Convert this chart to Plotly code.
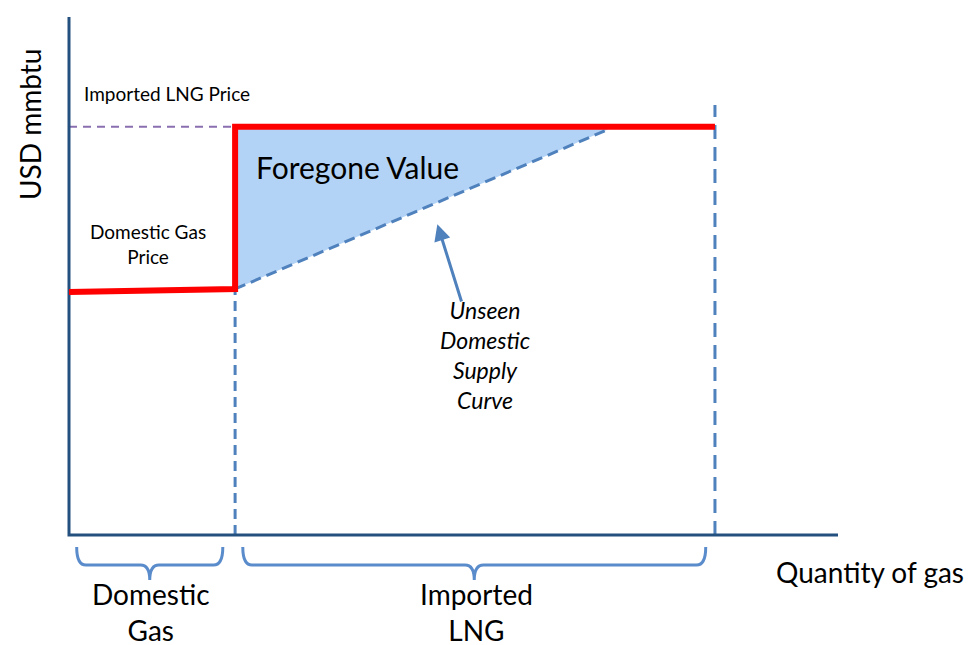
import plotly.graph_objects as go

# conceptual units: both axes run 0..100
axis_max_x = 100.0
axis_max_y = 100.0

q_domestic = 21.6          # end of domestic gas supply
q_total = 84.0             # end of imported LNG
price_lng = 78.8
price_domestic = [46.9, 47.5]   # slight upward tilt from 0 to q_domestic

supply_x = [21.6, 70.9]    # unseen domestic supply curve
supply_y = [47.5, 78.8]
supply_dash_end = 69.8     # dashes stop a little before the LNG price line

arrow_head = (47.9, 60.0)
arrow_tail = (51.1, 44.8)

AXIS = "#24507f"
BLUE = "#4f81bd"
RED = "#ff0000"
FILL = "#b3d3f6"
PURPLE = "#8a6fb0"
FONT = "Lato"

# page pixel -> data units (origin at px 69,535; 7.69 px per x unit, 5.18 px per y unit)
SX, SY, OX, OY = 7.69, 5.18, 69, 535


def px_x(p):
    return (p - OX) / SX


def px_y(p):
    return (OY - p) / SY


fig = go.Figure()

# foregone value triangle
fig.add_trace(go.Scatter(
    x=[q_domestic, q_domestic, supply_x[1], q_domestic],
    y=[supply_y[0], price_lng, price_lng, supply_y[0]],
    fill="toself", fillcolor=FILL, mode="lines", line=dict(width=0),
    hoverinfo="skip", showlegend=False,
))

# dashed supply curve
slope = (supply_y[1] - supply_y[0]) / (supply_x[1] - supply_x[0])
fig.add_trace(go.Scatter(
    x=[supply_x[0], supply_dash_end],
    y=[supply_y[0], supply_y[0] + slope * (supply_dash_end - supply_x[0])],
    mode="lines", line=dict(color=BLUE, width=3, dash="11px,6px"),
    showlegend=False,
))

# vertical dashed guides
fig.add_trace(go.Scatter(
    x=[q_domestic, q_domestic], y=[0, price_domestic[1]],
    mode="lines", line=dict(color=BLUE, width=3, dash="10px,6px"), showlegend=False,
))
fig.add_trace(go.Scatter(
    x=[q_total, q_total], y=[0, price_lng + 4.2],
    mode="lines", line=dict(color=BLUE, width=3, dash="14px,8px"), showlegend=False,
))

# imported LNG price reference
fig.add_trace(go.Scatter(
    x=[0, q_domestic], y=[price_lng, price_lng],
    mode="lines", line=dict(color=PURPLE, width=2, dash="8px,6px"), showlegend=False,
))

# axes
fig.add_trace(go.Scatter(
    x=[0, 0, axis_max_x], y=[axis_max_y, 0, 0],
    mode="lines", line=dict(color=AXIS, width=3), showlegend=False,
))

# price path (red)
fig.add_trace(go.Scatter(
    x=[0, q_domestic, q_domestic, q_total],
    y=[price_domestic[0], price_domestic[1], price_lng, price_lng],
    mode="lines", line=dict(color=RED, width=6), showlegend=False,
))


def brace(x0, x1, y_top=-2.3, y_mid=-5.8, y_tip=-8.7, r=1.2):
    xm = (x0 + x1) / 2
    return (f"M {x0},{y_top} Q {x0},{y_mid} {x0 + r},{y_mid} "
            f"L {xm - r},{y_mid} Q {xm},{y_mid} {xm},{y_tip} "
            f"Q {xm},{y_mid} {xm + r},{y_mid} "
            f"L {x1 - r},{y_mid} Q {x1},{y_mid} {x1},{y_top}")


for a, b in [(0 + 1.0, q_domestic - 1.6), (q_domestic + 1.0, q_total - 1.2)]:
    fig.add_shape(type="path", path=brace(a, b), xref="x", yref="y",
                  line=dict(color="#5a8ccc", width=3))

fig.add_annotation(
    x=arrow_head[0], y=arrow_head[1], ax=arrow_tail[0], ay=arrow_tail[1],
    xref="x", yref="y", axref="x", ayref="y", text="",
    showarrow=True, arrowhead=2, arrowsize=1.1, arrowwidth=3, arrowcolor=BLUE,
)

texts = [
    dict(x=30, y=125, text="USD mmbtu", size=28, angle=-90),
    dict(x=167, y=93, text="Imported LNG Price", size=19),
    dict(x=148, y=244, text="Domestic Gas<br>Price", size=19),
    dict(x=357, y=167, text="Foregone Value", size=30),
    dict(x=485, y=355, text="<i>Unseen<br>Domestic<br>Supply<br>Curve</i>", size=23),
    dict(x=966, y=572, text="Quantity of gas", size=28, xanchor="right"),
    dict(x=151, y=612, text="Domestic<br>Gas", size=28),
    dict(x=476, y=612, text="Imported<br>LNG", size=28),
]
for t in texts:
    fig.add_annotation(
        x=px_x(t["x"]), y=px_y(t["y"]), xref="x", yref="y", text=t["text"],
        showarrow=False, xanchor=t.get("xanchor", "center"),
        textangle=t.get("angle", 0), font=dict(family=FONT, size=t["size"], color="black"),
        align="center",
    )

fig.update_xaxes(visible=False, range=[px_x(0), px_x(968)])
fig.update_yaxes(visible=False, range=[px_y(645), px_y(0)])
fig.update_layout(
    width=968, height=645, margin=dict(l=0, r=0, t=0, b=0),
    plot_bgcolor="white", paper_bgcolor="white", showlegend=False,
)

fig.write_html(
    "out.html",
    config={"displayModeBar": False},
    post_script="document.body.style.margin='0';document.body.style.overflow='hidden';",
)
